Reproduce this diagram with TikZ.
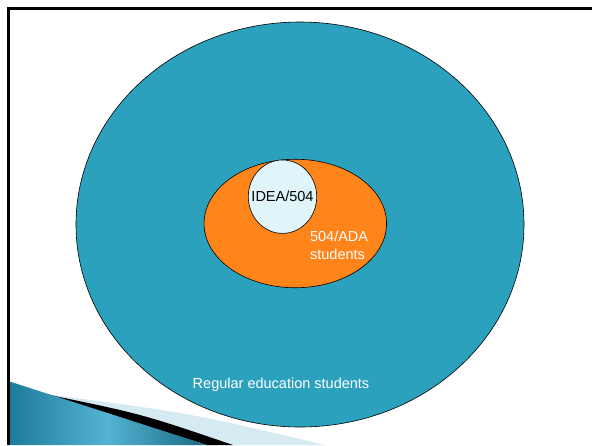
\documentclass[tikz,border=0pt]{standalone}
\usepackage{fontspec}
\setmainfont{Liberation Sans}
\usetikzlibrary{shapes.geometric,positioning}
\definecolor{regteal}{HTML}{2CA1BE}
\definecolor{adaorange}{HTML}{FF851B}
\definecolor{idealight}{HTML}{DFF5F9}
\definecolor{swoshdark}{HTML}{1B7B99}
\definecolor{swoshlight}{HTML}{55B3D3}
\definecolor{swoshpale}{HTML}{D5EAF1}
\tikzset{
    zone/.style={ellipse,draw=black,line width=0.6pt,inner sep=0pt},
    lbl/.style={inner sep=0pt,font=\fontsize{14.5}{18}\selectfont},
}

\begin{document}
\begin{tikzpicture}[x=1pt,y=-1pt]
    \useasboundingbox (0,0) rectangle (592,445);
    % slide decoration
    \fill[swoshpale] (45,394) .. controls (190,413) .. (325,445) -- (233,445) .. controls (142,414) .. (45,394);
    \fill[black] (45,394) .. controls (142,414) .. (233,445) -- (207,445) -- cycle;
    \shade[left color=swoshdark,right color=swoshdark!85!black,middle color=swoshlight] (8,381) -- (207,445) -- (8,445) -- cycle;
    \draw[line width=2.7pt] (8.7,445) -- (8.7,8.7) -- (592,8.7);

    \node[zone,fill=regteal,minimum width=448pt,minimum height=405pt] (reg) at (300,224.5) {};
    \node[zone,fill=adaorange,minimum width=182.5pt,minimum height=128.5pt] (ada) at (295.3,223.5) {};
    \node[zone,fill=idealight,minimum width=68.4pt,minimum height=73.4pt] (idea) at (282.5,196.7) {};
    \node[lbl] (l0) at (idea.center) {IDEA/504};
    \node[lbl,text=white,align=left] (l1) [below right = 8pt and 3pt of idea.south east] {504/ADA\\students};
    \node[lbl,text=white] (l2) [above = 36pt of reg.south, xshift=-19pt] {Regular education students};
\end{tikzpicture}
\end{document}
